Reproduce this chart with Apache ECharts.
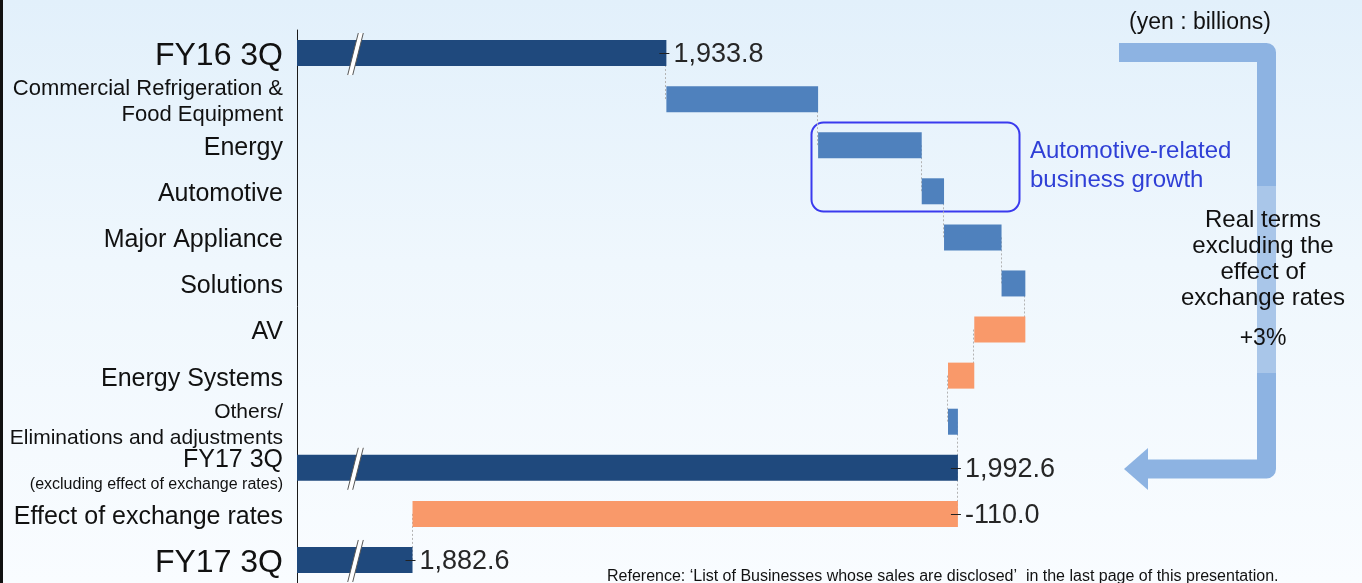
<!DOCTYPE html>
<html>
<head>
<meta charset="utf-8">
<script src="https://cdn.jsdelivr.net/npm/echarts@6/dist/echarts.min.js"></script>
<style>
  html, body { margin: 0; padding: 0; }
  body { width: 1362px; height: 583px; overflow: hidden;
    background: linear-gradient(to bottom, #e2f0fb 0%, #eff7fd 45%, #f9fcff 100%); }
  #chart { width: 1362px; height: 583px; }
</style>
</head>
<body>
<div id="chart"></div>
<script>
// ---- data ----
const categories = [
  'FY16 3Q',
  'Commercial Refrigeration &\nFood Equipment',
  'Energy',
  'Automotive',
  'Major Appliance',
  'Solutions',
  'AV',
  'Energy Systems',
  'Others/\nEliminations and adjustments',
  'FY17 3Q\n(excluding effect of exchange rates)',
  'Effect of exchange rates',
  'FY17 3Q'
];
// totals for total rows, changes for the others (yen : billions)
const values = [1933.8, 30.6, 20.9, 4.5, 11.6, 4.8, -10.3, -5.3, 2.0, 1992.6, -110.0, 1882.6];
const isTotal = [true, false, false, false, false, false, false, false, false, true, false, true];
const labelledRows = [0, 9, 10, 11];
const axisMin = 1859.3;
const axisMax = 2074.1;
const breakValue = 1871.1;

// ---- derived waterfall arrays ----
const baseArr = [], totalArr = [], upArr = [], downArr = [], levels = [], rightEnds = [];
let level = 0;
values.forEach((v, i) => {
  const lab = labelledRows.indexOf(i) >= 0;
  const txt = (v < 0 ? '-' : '') + Math.abs(v).toFixed(1).replace(/\B(?=(\d{3})+(?!\d))/g, ',');
  const mk = (val) => lab ? { value: val, label: { show: true, formatter: txt } } : val;
  if (isTotal[i]) {
    baseArr.push(0); totalArr.push(mk(v)); upArr.push(0); downArr.push(0);
    level = v; rightEnds.push(v);
  } else {
    const start = level, end = level + v;
    baseArr.push(Math.min(start, end));
    totalArr.push(0);
    if (v >= 0) { upArr.push(mk(v)); downArr.push(0); }
    else { downArr.push(mk(-v)); upArr.push(0); }
    level = end; rightEnds.push(Math.max(start, end));
  }
  levels.push(level);
});
const connectorData = [];
for (let i = 0; i < values.length - 1; i++) connectorData.push([levels[i], i, i + 1]);
const tickData = labelledRows.map(r => [rightEnds[r], r]);
const breakData = values.map((v, i) => i).filter(i => isTotal[i]).map(i => [breakValue, i]);

const FONT = '"Liberation Sans", Arial, sans-serif';
const styleKey = { 0: 'a', 1: 'c', 8: 'd', 10: 'f', 11: 'a' };
const valueLabel = { show: false, position: 'right', distance: 7, offset: [0, 2], fontSize: 27, color: '#262626', fontFamily: FONT };

const chart = echarts.init(document.getElementById('chart'), null, { width: 1362, height: 583 });
chart.setOption({
  animation: false,
  backgroundColor: 'transparent',
  textStyle: { fontFamily: FONT },
  grid: { left: 297, top: 30, width: 1065, height: 554.4 },
  xAxis: { type: 'value', min: axisMin, max: axisMax, show: false },
  yAxis: {
    type: 'category', inverse: true, data: categories,
    axisLine: { show: true, lineStyle: { color: '#1a1a1a', width: 1 } },
    axisTick: { show: false },
    axisLabel: {
      margin: 14, color: '#111', fontFamily: FONT, padding: [6, 0, 0, 0],
      formatter: (value, idx) => {
        const lines = value.split('\n');
        if (idx === 9) return '{b|' + lines[0] + '}\n{e|' + lines[1] + '}';
        const k = styleKey[idx] || 'b';
        return lines.map(l => '{' + k + '|' + l + '}').join('\n');
      },
      rich: {
        a: { fontSize: 32, fontFamily: FONT, color: '#111', lineHeight: 34, align: 'right' },
        b: { fontSize: 25, fontFamily: FONT, color: '#111', lineHeight: 26, align: 'right' },
        c: { fontSize: 22, fontFamily: FONT, color: '#111', lineHeight: 26, align: 'right' },
        d: { fontSize: 21, fontFamily: FONT, color: '#111', lineHeight: 26, align: 'right' },
        e: { fontSize: 16, fontFamily: FONT, color: '#111', lineHeight: 22, align: 'right', padding: [2, 0, 0, 0] },
        f: { fontSize: 25, fontFamily: FONT, color: '#111', lineHeight: 28, align: 'right' }
      }
    }
  },
  series: [
    {
      type: 'custom', z: 1, silent: true,
      renderItem: (params, api) => {
        const p1 = api.coord([api.value(0), api.value(1)]);
        const p2 = api.coord([api.value(0), api.value(2)]);
        const x = Math.round(p1[0]) - 0.5;
        return { type: 'line', shape: { x1: x, y1: p1[1], x2: x, y2: p2[1] },
          style: { stroke: '#b3b3b3', lineWidth: 1, lineDash: [2, 2] } };
      },
      encode: { x: 0, y: 1 },
      data: connectorData
    },
    { type: 'bar', stack: 'w', z: 2, barWidth: 26, silent: true,
      itemStyle: { color: 'transparent' }, data: baseArr },
    { type: 'bar', stack: 'w', z: 2, barWidth: 26, silent: true,
      itemStyle: { color: '#1f497d' }, label: valueLabel, data: totalArr },
    { type: 'bar', stack: 'w', z: 2, barWidth: 26, silent: true,
      itemStyle: { color: '#4f81bd' }, label: valueLabel, data: upArr },
    { type: 'bar', stack: 'w', z: 2, barWidth: 26, silent: true,
      itemStyle: { color: '#f9996a' }, label: valueLabel, data: downArr },
    {
      type: 'custom', z: 5, silent: true,
      renderItem: (params, api) => {
        const c = api.coord([api.value(0), api.value(1)]);
        const y = Math.round(c[1]) + 0.5;
        return { type: 'line', shape: { x1: c[0] - 7, y1: y, x2: c[0] + 3, y2: y },
          style: { stroke: '#222', lineWidth: 1 } };
      },
      encode: { x: 0, y: 1 },
      data: tickData
    },
    {
      type: 'custom', z: 6, silent: true,
      renderItem: (params, api) => {
        const c = api.coord([api.value(0), api.value(1)]);
        const x = c[0], y = c[1] + 1;
        const aT = [x + 2.8, y - 21], aB = [x - 7.8, y + 21];
        const bT = [x + 7.8, y - 21], bB = [x - 2.8, y + 21];
        return { type: 'group', children: [
          { type: 'polygon', shape: { points: [aT, bT, bB, aB] }, style: { fill: '#ffffff' } },
          { type: 'line', shape: { x1: aT[0], y1: aT[1], x2: aB[0], y2: aB[1] }, style: { stroke: '#555', lineWidth: 1 } },
          { type: 'line', shape: { x1: bT[0], y1: bT[1], x2: bB[0], y2: bB[1] }, style: { stroke: '#555', lineWidth: 1 } }
        ] };
      },
      encode: { x: 0, y: 1 },
      data: breakData
    }
  ],
  graphic: [
    { type: 'rect', shape: { x: 0, y: 0, width: 3, height: 583 }, style: { fill: '#111' } },
    { type: 'rect', shape: { x: 811.5, y: 122.5, width: 208, height: 89, r: 12 },
      style: { fill: 'none', stroke: '#3a3aee', lineWidth: 2 } },
    { type: 'text', style: { text: 'Automotive-related\nbusiness growth', x: 1030, y: 166,
      textAlign: 'left', textVerticalAlign: 'middle', font: '24px ' + FONT, fill: '#2f3fd6', lineHeight: 29.5 } },
    { type: 'polyline', shape: { points: [[1119, 52.5], [1266.5, 52.5], [1266.5, 469], [1147, 469]] },
      style: { stroke: '#8db3e2', lineWidth: 19, lineJoin: 'round', fill: null } },
    { type: 'polygon', shape: { points: [[1148, 448], [1124, 469], [1148, 490]] }, style: { fill: '#8db3e2' } },
    { type: 'rect', shape: { x: 1257, y: 186, width: 19, height: 187 }, style: { fill: 'rgba(255,255,255,0.25)' } },
    { type: 'text', style: { text: 'Real terms\nexcluding the\neffect of\nexchange rates', x: 1263, y: 259,
      textAlign: 'center', textVerticalAlign: 'middle', font: '24px ' + FONT, fill: '#111', lineHeight: 26 } },
    { type: 'text', style: { text: '+3%', x: 1263, y: 339, textAlign: 'center', textVerticalAlign: 'middle',
      font: '23px ' + FONT, fill: '#111' } },
    { type: 'text', style: { text: '(yen : billions)', x: 1200, y: 23, textAlign: 'center', textVerticalAlign: 'middle',
      font: '23px ' + FONT, fill: '#111' } },
    { type: 'text', style: { text: 'Reference: \u2018List of Businesses whose sales are disclosed\u2019  in the last page of this presentation.',
      x: 607, y: 577, textAlign: 'left', textVerticalAlign: 'middle', font: '16px ' + FONT, fill: '#111' } }
  ]
});
</script>
</body>
</html>
